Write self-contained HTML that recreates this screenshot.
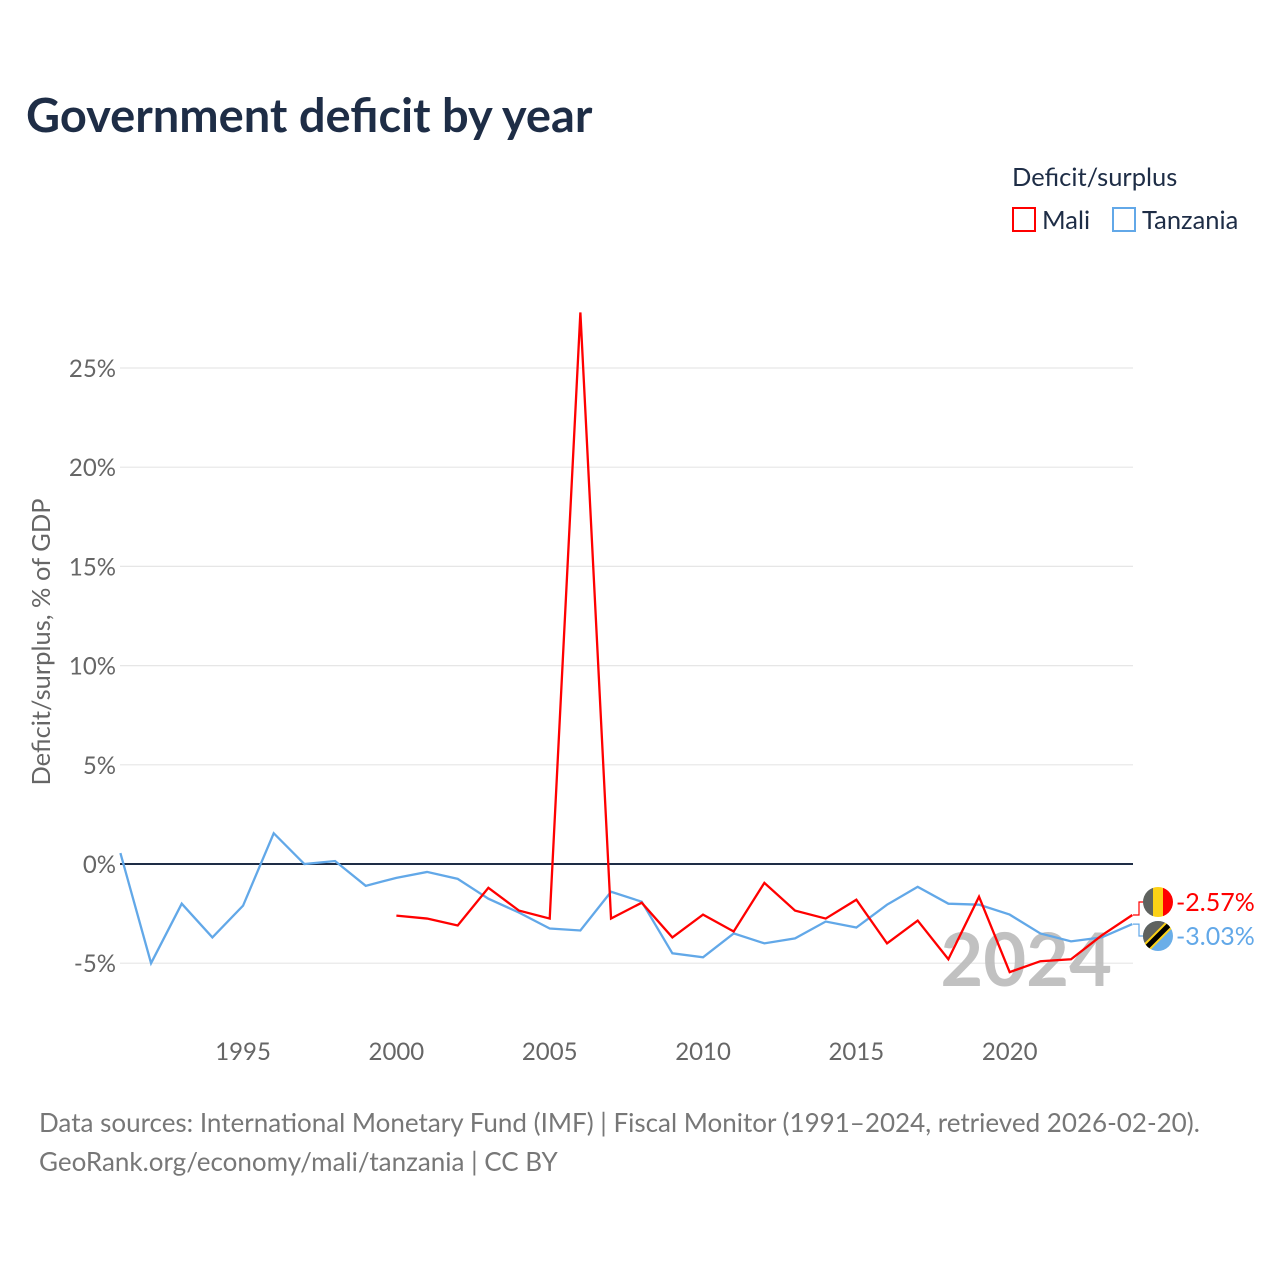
<!DOCTYPE html>
<html><head><meta charset="utf-8"><style>
body{margin:0;background:#fff;width:1280px;height:1280px;overflow:hidden;font-family:"Liberation Sans",sans-serif}
</style></head><body>
<svg id="chart" width="1280" height="1280" xmlns="http://www.w3.org/2000/svg" font-family="Lato, 'Liberation Sans', sans-serif">
<rect width="1280" height="1280" fill="#fff"/>
<text x="26" y="132" font-size="47" font-weight="bold" fill="#1e2d46">Government deficit by year</text>
<text x="1012" y="186" font-size="25.5" fill="#1e2d46">Deficit/surplus</text>
<g><rect x="1013" y="208" width="22" height="23" fill="none" stroke="#ff0000" stroke-width="2"/><text x="1042" y="229" font-size="25.5" fill="#1e2d46">Mali</text></g>
<g><rect x="1113" y="208" width="22" height="23" fill="none" stroke="#62a8e8" stroke-width="2"/><text x="1142" y="229" font-size="25.5" fill="#1e2d46">Tanzania</text></g>
<text transform="translate(50,642) rotate(-90)" text-anchor="middle" font-size="25.5" fill="#666">Deficit/surplus, % of GDP</text>
<g id="grid"></g><g id="xt"></g>
<text x="1112" y="986" text-anchor="end" font-size="74" font-weight="bold" fill="#bbb" opacity="0.9">2024</text>
<g id="lines"></g><g id="labels"></g>
<text x="39" y="1132" font-size="26" fill="#777">Data sources: International Monetary Fund (IMF) | Fiscal Monitor (1991–2024, retrieved 2026-02-20).</text>
<text x="39" y="1171" font-size="26" fill="#777">GeoRank.org/economy/mali/tanzania | CC BY</text>
</svg>
<script>
const years=[];for(let y=1991;y<=2024;y++)years.push(y);
const tanzania=[0.55,-5.0,-2.0,-3.7,-2.1,1.55,0.0,0.15,-1.1,-0.7,-0.4,-0.75,-1.75,-2.45,-3.25,-3.35,-1.4,-1.9,-4.5,-4.7,-3.5,-4.0,-3.75,-2.9,-3.2,-2.05,-1.15,-2.0,-2.05,-2.55,-3.5,-3.9,-3.7,-3.03];
const maliYears=[2000,2001,2002,2003,2004,2005,2006,2007,2008,2009,2010,2011,2012,2013,2014,2015,2016,2017,2018,2019,2020,2021,2022,2023,2024];
const mali=[-2.6,-2.75,-3.1,-1.2,-2.35,-2.75,27.8,-2.75,-1.95,-3.7,-2.55,-3.4,-0.95,-2.35,-2.75,-1.8,-4.0,-2.85,-4.8,-1.65,-5.45,-4.9,-4.8,-3.6,-2.57];
const yTicks=[-5,0,5,10,15,20,25];
const xTicks=[1995,2000,2005,2010,2015,2020];
const X=y=>120.4+(y-1991)*30.665, Y=v=>864-v*19.84;
const NS="http://www.w3.org/2000/svg";
function mk(t,a,p){const e=document.createElementNS(NS,t);for(const k in a)e.setAttribute(k,a[k]);p.appendChild(e);return e;}
const grid=document.getElementById('grid');
yTicks.forEach(v=>{
 const l=mk('line',{x1:120,x2:1133,y1:Y(v),y2:Y(v),stroke:v===0?'#1e2d46':'#e6e6e6','stroke-width':v===0?2:1.2},grid);
 
 
 const t=mk('text',{x:116,y:Y(v)+9,'text-anchor':'end','font-size':24,fill:'#666'},grid);t.textContent=v+'%';
 
 
});
const xt=document.getElementById('xt');
xTicks.forEach(v=>{const t=mk('text',{x:X(v),y:1060,'text-anchor':'middle','font-size':24,fill:'#666'},xt);t.textContent=v;
 
 });
const lines=document.getElementById('lines');
const p1=mk('polyline',{points:years.map((y,i)=>X(y)+','+Y(tanzania[i])).join(' '),fill:'none',stroke:'#62a8e8','stroke-width':2.3},lines);


const p2=mk('polyline',{points:maliYears.map((y,i)=>X(y)+','+Y(mali[i])).join(' '),fill:'none',stroke:'#ff0000','stroke-width':2.3},lines);


const lab=document.getElementById('labels');
function endLabel(val,ly,col,name,flag){
 const yv=Y(val);
 const c=mk('polyline',{points:`1133,${yv} 1139,${yv} 1139,${ly} 1146,${ly}`,fill:'none',stroke:col,'stroke-width':1.2},lab);
 
 
 const g=mk('g',{},lab);
 
 
 flag(g,ly);
 const t=mk('text',{x:1176,y:ly+9,'font-size':25,fill:col},lab);t.textContent=val.toFixed(2)+'%';
 
 
}
endLabel(mali[mali.length-1],902,'#ff0000','mali',(g,ly)=>{
 const cp=mk('clipPath',{id:'cm'},g);mk('circle',{cx:1158,cy:ly,r:15},cp);
 const h=mk('g',{'clip-path':'url(#cm)'},g);
 mk('rect',{x:1143,y:ly-15,width:10,height:30,fill:'#5f625f'},h);
 mk('rect',{x:1153,y:ly-15,width:10,height:30,fill:'#fcd116'},h);
 mk('rect',{x:1163,y:ly-15,width:10,height:30,fill:'#ff0000'},h);
});
endLabel(tanzania[tanzania.length-1],936,'#62a8e8','tanzania',(g,ly)=>{
 const cp=mk('clipPath',{id:'ct'},g);mk('circle',{cx:1158,cy:ly,r:15},cp);
 const h=mk('g',{'clip-path':'url(#ct)'},g);
 mk('rect',{x:1143,y:ly-15,width:30,height:30,fill:'#6aaee8'},h);
 mk('polygon',{points:`1143,${ly-15} 1173,${ly-15} 1143,${ly+15}`,fill:'#5f625f'},h);
 mk('line',{x1:1141,y1:ly+17,x2:1175,y2:ly-17,stroke:'#fcd116','stroke-width':9},h);
 mk('line',{x1:1141,y1:ly+17,x2:1175,y2:ly-17,stroke:'#000','stroke-width':5},h);
});
</script>
</body></html>
